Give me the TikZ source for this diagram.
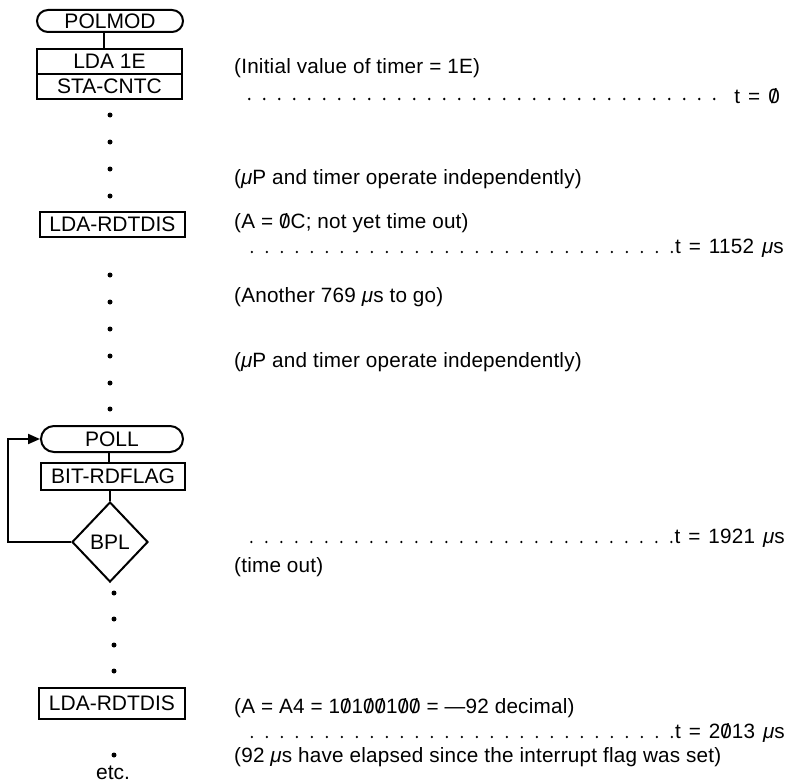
\documentclass[tikz,border=0pt]{standalone}
\usepackage{fontspec}
\setmainfont{Liberation Sans}
\newfontfamily\bodyfont[LetterSpace=1]{Liberation Sans}
\usetikzlibrary{shapes.geometric,arrows.meta,calc}
\newcommand\zs{\ooalign{0\cr\hidewidth/\hidewidth\cr}}
\newcommand\mus{{\itshape μ}s}
\newcommand\muP{{\itshape μ}P}
\newcommand\tsp{\hspace{8pt}}
\begin{document}
\begin{tikzpicture}[x=1pt,y=-1pt,
  flow/.style={line width=2pt},
  boxfont/.style={font=\fontsize{21}{24}\selectfont},
  term/.style={draw,flow,boxfont,rounded corners=11pt,inner sep=0pt},
  opbox/.style={draw,flow,boxfont,inner sep=0pt},
  decis/.style={draw,flow,boxfont,diamond,inner sep=0pt},
  vdot/.style={circle,fill,inner sep=0pt,minimum size=5pt},
  note/.style={anchor=west,inner sep=0pt,font=\bodyfont\fontsize{20.7}{24}\selectfont},
  tmark/.style={anchor=east,inner sep=0pt,font=\bodyfont\fontsize{20.7}{24}\selectfont},
  leader/.style={line width=2.6pt,line cap=round,dash pattern=on 0pt off 15pt},
  conn/.style={flow}
]
\path[fill=white,use as bounding box] (0,0) rectangle (785,784);

% left column
\node[term,minimum width=146pt,minimum height=22pt] (polmod) at (110,21) {POLMOD};
\node[opbox,minimum width=145pt,minimum height=25pt] (lda1) at (109.5,61.5) {LDA 1E};
\node[opbox,minimum width=145pt,minimum height=25pt] (sta) at (109.5,86.5) {STA-CNTC};
\draw[conn] ([xshift=-6pt]polmod.south) -- ([xshift=-5.5pt]lda1.north);

\foreach \y [count=\i] in {115,142,169,196}
  \node[vdot] (da\i) at (110,\y) {};

\node[opbox,minimum width=145pt,minimum height=25pt] (rd1) at (112.5,224.5) {LDA-RDTDIS};

\foreach \y [count=\i] in {275,302,329,356,383,409}
  \node[vdot] (db\i) at (110,\y) {};

\node[term,minimum width=142pt,minimum height=26pt,rounded corners=13pt] (poll) at (112,439) {POLL};
\node[opbox,minimum width=144pt,minimum height=27pt] (bit) at (113,476.5) {BIT-RDFLAG};
\node[decis,minimum width=76pt,minimum height=80pt] (bpl) at (110,542) {BPL};
\draw[conn] ([xshift=-3pt]poll.south) -- ([xshift=-4pt]bit.north);
\draw[conn] (bit.south -| bpl.north) -- (bpl.north);
\coordinate (lp1) at (8,542);
\coordinate (lp2) at (8,439);
\draw[conn,-{Triangle[length=12pt,width=10pt]}] (bpl.west) -- (bpl.west -| lp1) -- (lp2) -- (poll.west);

\foreach \y [count=\i] in {593,619,645,671}
  \node[vdot] (dc\i) at (114,\y) {};

\node[opbox,minimum width=146pt,minimum height=31pt] (rd2) at (112,703.5) {LDA-RDTDIS};
\node[vdot] (dd1) at (114,755) {};
\node[boxfont,inner sep=0pt] (etc) at (113,773) {etc.};

% right column
\node[note] (n1) at (234,68) {(Initial value of timer = 1E)};
\node[tmark] (t0) at (780,96) {t\tsp=\tsp\zs};
\coordinate (l0) at (245,99);
\draw[leader] ($(t0.west |- l0)+(-20,0)$) -- (l0);

\node[note] (n2) at (234,179) {(\muP\ and timer operate independently)};
\node[note] (n3) at (234,223) {(A = \zs C; not yet time out)};
\node[tmark] (t1) at (784,248) {t\tsp=\tsp1152\tsp\mus};
\coordinate (l1) at (240,252);
\draw[leader] ($(t1.west |- l1)+(-3,0)$) -- (l1);

\node[note] (n4) at (234,297) {(Another 769 \mus\ to go)};
\node[note] (n5) at (234,362) {(\muP\ and timer operate independently)};

\node[tmark] (t2) at (785,538) {t\tsp=\tsp1921\tsp\mus};
\coordinate (l2) at (240,542);
\draw[leader] ($(t2.west |- l2)+(-3,0)$) -- (l2);
\node[note] (n6) at (234,567) {(time out)};

\node[note] (n7) at (234,708) {(A = A4 = 1\zs1\zs\zs1\zs\zs\ = —92 decimal)};
\node[tmark] (t3) at (785,733) {t\tsp=\tsp2\zs13\tsp\mus};
\coordinate (l3) at (240,737);
\draw[leader] ($(t3.west |- l3)+(-3,0)$) -- (l3);
\node[note] (n8) at (234,757) {(92 \mus\ have elapsed since the interrupt flag was set)};
\end{tikzpicture}
\end{document}
